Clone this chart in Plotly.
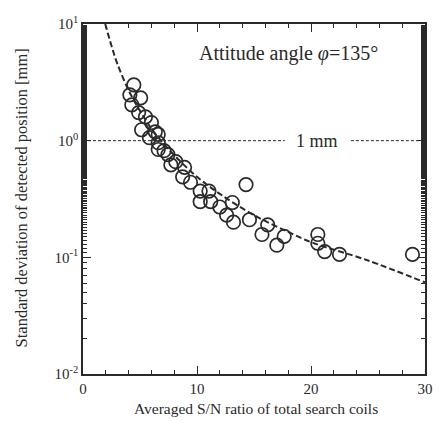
import plotly.graph_objects as go

# measured points (x: averaged S/N, y: std deviation [mm])
sn_ratio = [4.46, 4.11, 5.06, 4.28, 4.88, 5.48, 6.0, 5.14, 6.34, 5.83, 6.6, 6.6,
            7.11, 6.6, 7.45, 7.71, 8.14, 8.91, 8.74, 9.43, 10.28, 11.05, 10.28,
            11.2, 12.0, 12.6, 13.1, 13.2, 14.3, 14.6, 16.2, 15.7, 17.0, 17.65,
            20.6, 20.6, 21.2, 22.5, 28.9]
std_dev = [3.01, 2.47, 2.33, 2.03, 1.74, 1.60, 1.43, 1.24, 1.19, 1.06, 1.13, 0.96,
           0.82, 0.84, 0.76, 0.62, 0.66, 0.59, 0.49, 0.44, 0.37, 0.37, 0.30,
           0.30, 0.27, 0.23, 0.295, 0.20, 0.42, 0.21, 0.19, 0.157, 0.127, 0.151,
           0.157, 0.132, 0.112, 0.106, 0.106]

# dashed fit curve
fit_x = [1.95, 2.5, 3, 4, 5, 6, 7, 8, 10, 12, 15, 18, 20, 25, 30]
fit_y = [10.0, 6.5, 4.6, 2.7, 1.8, 1.27, 0.96, 0.75, 0.49, 0.35, 0.23, 0.165, 0.135, 0.094, 0.061]

# 1 mm reference line segments
ref_left_x = [0, 17.7]
ref_right_x = [23.5, 30]
ref_y = [1, 1]

x_tickvals = [0, 10, 20, 30]
x_ticktext = ["0", "10", "20", "30"]
y_tickvals = [0.01, 0.1, 1, 10]
y_ticktext = ["10<sup>-2</sup>", "10<sup>-1</sup>", "10<sup>0</sup>", "10<sup>1</sup>"]

ink = "#2a2a2a"
font = "Liberation Serif, Times New Roman, DejaVu Serif, serif"

fig = go.Figure()
fig.add_trace(go.Scatter(x=ref_left_x, y=ref_y, mode="lines",
                         line=dict(color=ink, width=1, dash="3px,2px"), showlegend=False))
fig.add_trace(go.Scatter(x=ref_right_x, y=ref_y, mode="lines",
                         line=dict(color=ink, width=1, dash="3px,2px"), showlegend=False))
fig.add_trace(go.Scatter(x=fit_x, y=fit_y, mode="lines", line_shape="spline",
                         line=dict(color=ink, width=2, dash="6px,3px"), showlegend=False))
fig.add_trace(go.Scatter(x=sn_ratio, y=std_dev, mode="markers",
                         marker=dict(symbol="circle-open", size=13.5, color=ink,
                                     line=dict(width=1.7, color=ink)),
                         showlegend=False))

fig.add_annotation(x=20.5, y=0, yref="y", text="1 mm", showarrow=False,
                   font=dict(family=font, size=18, color=ink), xanchor="center", yanchor="middle")
fig.add_annotation(x=(200 - 83) / 350, y=(374 - 53) / 350, xref="paper", yref="paper",
                   text="Attitude angle <i>φ</i>=135°", showarrow=False,
                   font=dict(family=font, size=20, color=ink), xanchor="left", yanchor="middle")
# axis titles
fig.add_annotation(x=(260 - 83) / 350, y=(374 - 408) / 350, xref="paper", yref="paper",
                   text="Averaged S/N ratio of total search coils", showarrow=False,
                   font=dict(family=font, size=15.5, color=ink), xanchor="center", yanchor="middle")
fig.add_annotation(x=(20 - 83) / 350, y=(374 - 198) / 350, xref="paper", yref="paper",
                   text="Standard deviation of detected position [mm]", showarrow=False,
                   textangle=-90,
                   font=dict(family=font, size=16.5, color=ink), xanchor="center", yanchor="middle")

axis_common = dict(showline=True, linecolor=ink, linewidth=1.6, mirror="allticks",
                   ticks="inside", tickcolor=ink, tickwidth=1.2, showgrid=False,
                   zeroline=False, tickfont=dict(family=font, size=15, color=ink))

fig.update_xaxes(range=[0, 30], tickvals=x_tickvals, ticktext=x_ticktext, ticklen=8,
                 minor=dict(dtick=2, ticks="inside", ticklen=4, tickcolor=ink, tickwidth=1.2),
                 **axis_common)
fig.update_yaxes(type="log", range=[-2, 1], tickvals=y_tickvals, ticktext=y_ticktext, ticklen=8,
                 minor=dict(ticks="inside", ticklen=4, tickcolor=ink, tickwidth=1.2),
                 **axis_common)

fig.update_layout(width=439, height=421, margin=dict(l=83, r=6, t=24, b=47),
                  paper_bgcolor="white", plot_bgcolor="white",
                  font=dict(family=font, color=ink))
fig.write_html("out.html")
